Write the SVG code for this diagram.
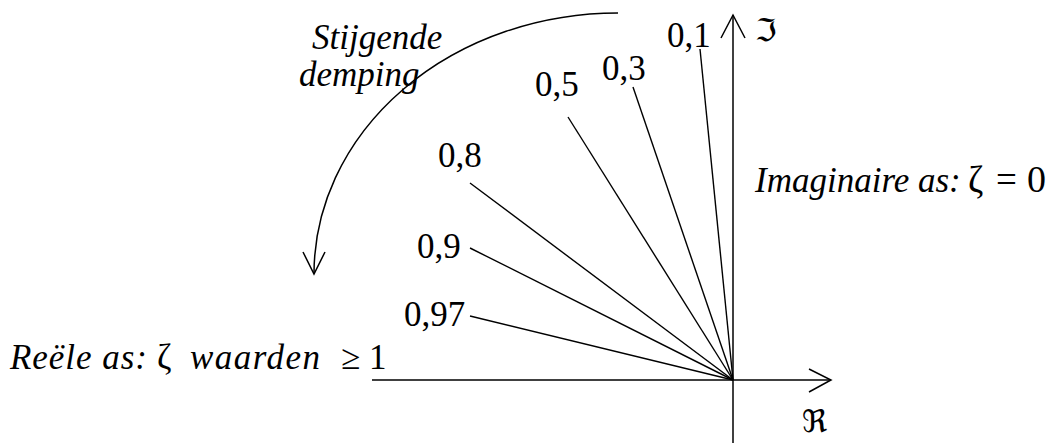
<svg xmlns="http://www.w3.org/2000/svg" width="1060" height="443" viewBox="0 0 1060 443">
<style>
.ln{stroke:#000;stroke-width:1.4;fill:none}
.ax{stroke:#000;stroke-width:1.5;fill:none}
.t{font-family:'Liberation Serif','Times New Roman',Times,serif;font-size:35px;fill:#000}
.i{font-style:italic}
.fr{font-family:'DejaVu Serif','DejaVu Sans',serif;font-size:31px;fill:#000}
</style>
<rect width="1060" height="443" fill="#fff"/>
<g id="axes">
<line class="ax" x1="733" y1="443" x2="733" y2="15"/>
<polyline class="ax" points="721,38 733,15 745,38"/>
<line class="ax" x1="372" y1="380" x2="831" y2="380"/>
<polyline class="ax" points="809,369 831,380 809,392"/>
<text class="fr" x="755" y="41">ℑ</text>
<text class="fr" x="802" y="432">ℜ</text>
</g>
<g id="connectors">
<line class="ln" x1="733" y1="380" x2="700" y2="49"/>
<line class="ln" x1="733" y1="380" x2="633" y2="87"/>
<line class="ln" x1="733" y1="380" x2="568" y2="117"/>
<line class="ln" x1="733" y1="380" x2="470" y2="183"/>
<line class="ln" x1="733" y1="380" x2="470" y2="248"/>
<line class="ln" x1="733" y1="380" x2="470" y2="316"/>
</g>
<g id="labels">
<text class="t" x="667" y="47">0,1</text>
<text class="t" x="602" y="80">0,3</text>
<text class="t" x="535" y="96">0,5</text>
<text class="t" x="438" y="167">0,8</text>
<text class="t" x="417" y="258">0,9</text>
<text class="t" x="404" y="326">0,97</text>
</g>
<g id="damping-arrow">
<path class="ax" d="M618,13 A304,261 0 0 0 314,274"/>
<polyline class="ax" points="303,252 314,274 325,252"/>
<text class="t i" x="312" y="49" font-size="36">Stijgende</text>
<text class="t i" x="299" y="86" font-size="36">demping</text>
</g>
<g id="imag-label">
<text class="t" x="755" y="192" font-size="34.5"><tspan class="i">Imaginaire as:</tspan><tspan x="968" font-size="37">ζ</tspan><tspan x="996" font-size="37">=</tspan><tspan x="1027" font-size="38">0</tspan></text>
</g>
<g id="real-label">
<text class="t" x="10" y="369" font-size="38"><tspan class="i" textLength="137" lengthAdjust="spacing">Reële as:</tspan><tspan x="157">ζ</tspan><tspan class="i" x="190" textLength="130" lengthAdjust="spacing">waarden</tspan><tspan x="341">≥</tspan><tspan x="369">1</tspan></text>
</g>
</svg>
